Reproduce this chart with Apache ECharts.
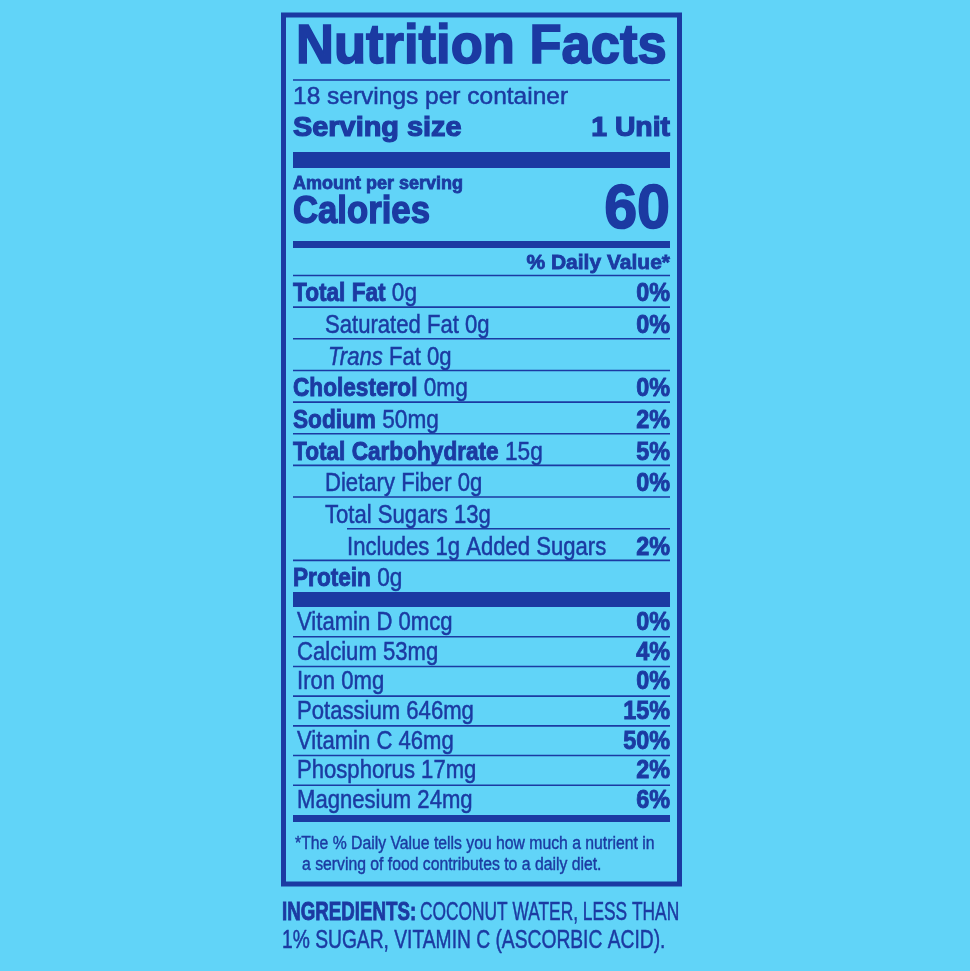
<!DOCTYPE html>
<html>
<head>
<meta charset="utf-8">
<title>Nutrition Facts</title>
<script src="https://cdn.jsdelivr.net/npm/echarts@6/dist/echarts.min.js"></script>
<style>
html, body { margin: 0; padding: 0; background: #61d4f8; }
#label { width: 970px; height: 971px; }
</style>
</head>
<body>
<div id="label"></div>
<script>
// label values
const servings = '18 servings per container';
const servingSize = '1 Unit';
const calories = '60';
const nutrients = ['Total Fat', 'Saturated Fat', 'Trans Fat', 'Cholesterol', 'Sodium', 'Total Carbohydrate', 'Dietary Fiber', 'Total Sugars', 'Includes 1g Added Sugars', 'Protein'];
const amounts = ['0g', '0g', '0g', '0mg', '50mg', '15g', '0g', '13g', '', '0g'];
const dailyValues = ['0%', '0%', '', '0%', '2%', '5%', '0%', '', '2%', ''];
const levels = [0, 1, 1, 0, 0, 0, 1, 1, 2, 0];
const vitamins = ['Vitamin D', 'Calcium', 'Iron', 'Potassium', 'Vitamin C', 'Phosphorus', 'Magnesium'];
const vitAmounts = ['0mcg', '53mg', '0mg', '646mg', '46mg', '17mg', '24mg'];
const vitValues = ['0%', '4%', '0%', '15%', '50%', '2%', '6%'];
const footnote = ['*The % Daily Value tells you how much a nutrient in', 'a serving of food contributes to a daily diet.'];
const ingredients = ['COCONUT WATER, LESS THAN', '1% SUGAR, VITAMIN C (ASCORBIC ACID).'];

let ink = '#1b3aa2';
let face = '"Liberation Sans", Arial, sans-serif';
let L = 293, R = 670;
let els = [];

function rich(size, w) {
    return {
        b: {fontSize: size, fontWeight: 'bold', fontFamily: face, fill: ink, stroke: ink, lineWidth: w + 0.4},
        r: {fontSize: size, fontWeight: 'normal', fontFamily: face, fill: ink, stroke: ink, lineWidth: w},
        i: {fontSize: size, fontWeight: 'normal', fontStyle: 'italic', fontFamily: face, fill: ink, stroke: ink, lineWidth: w}
    };
}

function text(x, y, str, size, opt){
    opt = opt || {};
    let w = opt.w != null ? opt.w : (opt.bold ? 0.9 : 0.5);
    els.push({
        type: 'text',
        x: x,
        y: y,
        scaleX: opt.sx || 1,
        style: {
            text: str,
            fontSize: size,
            fontFamily: face,
            fontWeight: opt.bold ? 'bold' : 'normal',
            fill: ink,
            stroke: ink,
            lineWidth: w,
            align: opt.align || 'left',
            verticalAlign: 'middle',
            rich: rich(size, opt.w != null ? opt.w : 0.5)
        }
    });
}

function rule(x1, x2, y, w){
    els.push({
        type: 'rect',
        shape: {x: x1, y: y - w / 2, width: x2 - x1, height: w},
        style: {fill: ink}
    });
}

// frame
els.push({
    type: 'rect',
    shape: {x: 283.5, y: 15, width: 396, height: 869},
    style: {fill: 'none', stroke: ink, lineWidth: 5}
});

// header
text(296, 48, 'Nutrition Facts', 55, {bold: true, sx: 0.955, w: 1.6});
rule(L, R, 80, 1.6);
text(L, 97, servings, 24.5, {sx: 1.0});
text(L, 129, 'Serving size', 27, {bold: true, sx: 1.07, w: 1.2});
text(R, 129, servingSize, 27, {bold: true, sx: 1.05, w: 1.2, align: 'right'});
rule(L, R, 160, 16);
text(L, 184, 'Amount per serving', 18, {bold: true, sx: 1.0, w: 0.8});
text(L, 212, 'Calories', 39, {bold: true, sx: 0.89, w: 1.4});
text(R, 211, calories, 63, {bold: true, sx: 0.94, w: 1.6, align: 'right'});
rule(L, R, 244.5, 7);
text(R, 263, '% Daily Value*', 21, {bold: true, w: 0.8, align: 'right'});
rule(L, R, 275.5, 1.6);

// nutrients
let nTop = 275.5, rowH = (592 - 275.5) / nutrients.length;
let indent = [L, 325, 347];
nutrients.forEach((name, i) => {
    let bottom = nTop + rowH * (i + 1);
    let amt = amounts[i] ? ' ' + amounts[i] : '';
    let isTrans = name.indexOf('Trans ') === 0;
    let str;
    if (levels[i] === 0) {
        str = '{b|' + name + '}{r|' + amt + '}';
    } else if (isTrans) {
        str = '{i|Trans}{r|' + name.slice(5) + amt + '}';
    } else {
        str = '{r|' + name + amt + '}';
    }
    let x = indent[levels[i]] + (isTrans ? 3 : 0);
    text(x, bottom - 13, str, 26, {sx: levels[i] === 0 ? 0.87 : 0.85, w: 0.5});
    if (dailyValues[i]) {
        text(R, bottom - 13, dailyValues[i], 26, {bold: true, sx: 0.9, w: 0.9, align: 'right'});
    }
    if (i < nutrients.length - 1) {
        let next = levels[i + 1] === 2 ? indent[2] : L;
        rule(next, R, bottom, 1.6);
    }
});
rule(L, R, 599.5, 15);

// vitamins and minerals
let vTop = 607, vH = (815 - 607) / vitamins.length;
vitamins.forEach((name, i) => {
    let bottom = vTop + vH * (i + 1);
    text(297, bottom - 14, name + ' ' + vitAmounts[i], 26, {sx: 0.85});
    text(R, bottom - 14, vitValues[i], 26, {bold: true, sx: 0.9, w: 0.9, align: 'right'});
    if (i < vitamins.length - 1) rule(L, R, bottom, 1.6);
});
rule(L, R, 818.5, 7);

// footnote
text(295, 844, footnote[0], 17.5, {sx: 0.9, w: 0.4});
text(302, 865, footnote[1], 17.5, {sx: 0.9, w: 0.4});

// ingredients
text(282, 912.5, 'INGREDIENTS:', 26, {bold: true, sx: 0.72, w: 0.9});
text(420, 912.5, ingredients[0], 26, {sx: 0.667});
text(282, 940.5, ingredients[1], 26, {sx: 0.74});

let chart = echarts.init(document.getElementById('label'));
chart.setOption({
    backgroundColor: '#61d4f8',
    graphic: {elements: els}
});
</script>
</body>
</html>
